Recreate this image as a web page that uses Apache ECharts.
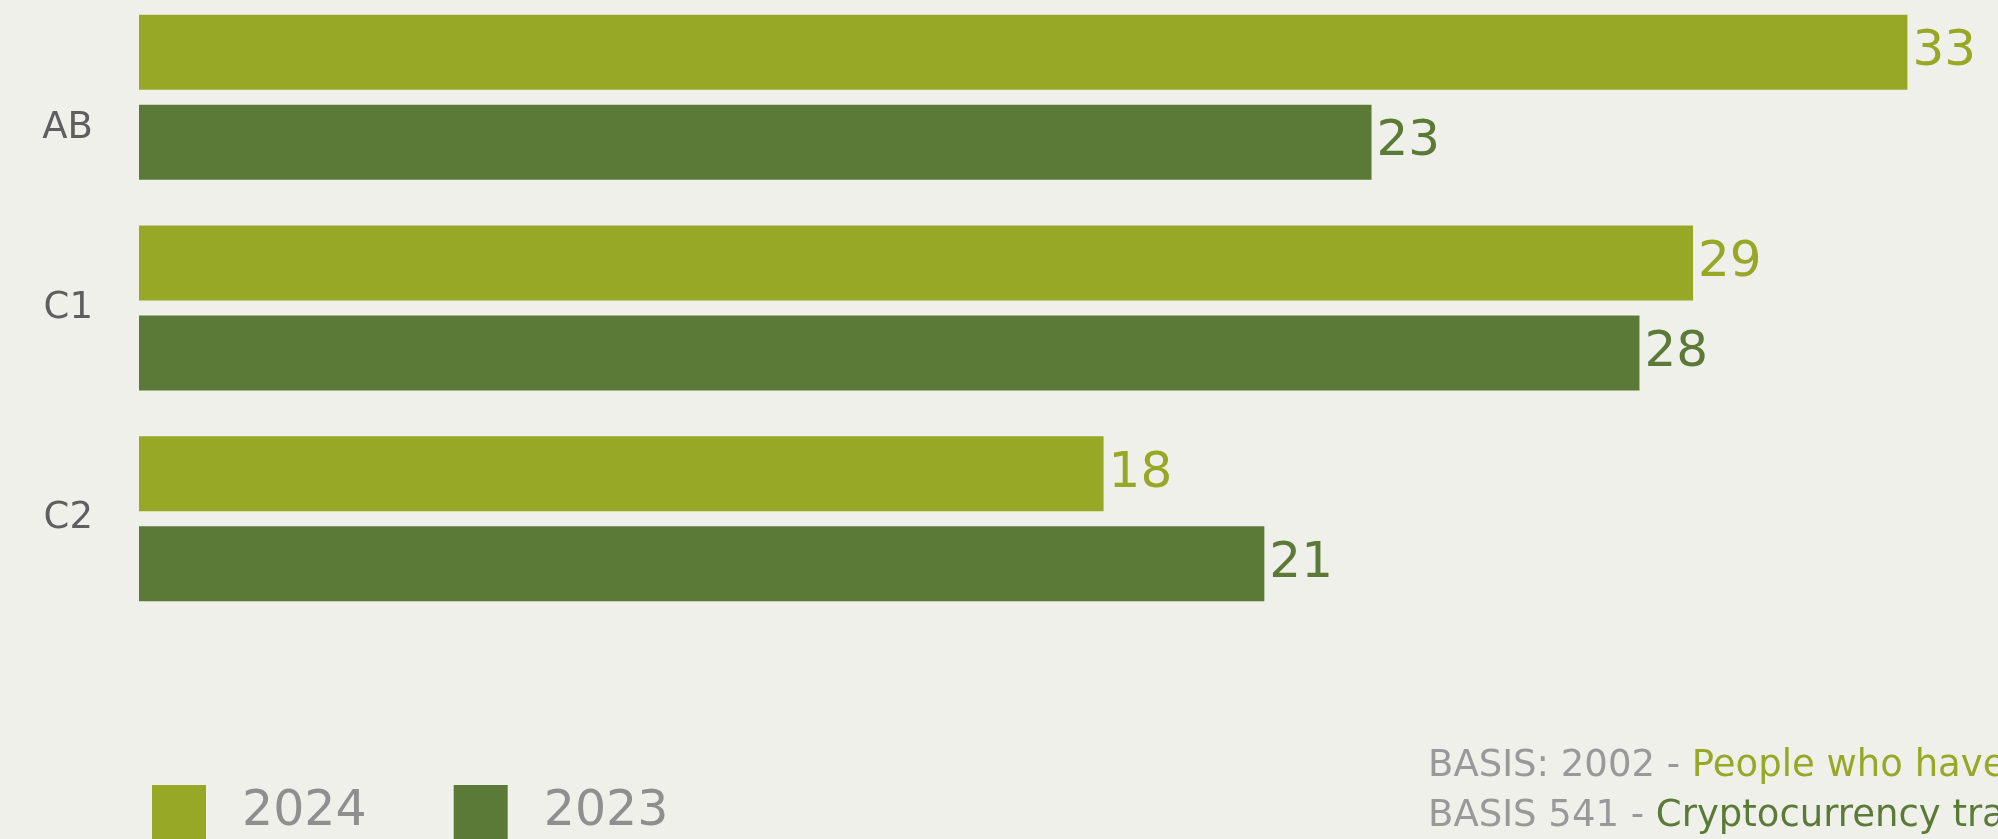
<!DOCTYPE html>
<html>
<head>
<meta charset="utf-8">
<script src="https://cdn.jsdelivr.net/npm/echarts@6/dist/echarts.min.js"></script>
<style>
  html, body { margin: 0; padding: 0; background: #f0f0eb; }
  #chart { width: 1998px; height: 839px; }
</style>
</head>
<body>
<div id="chart"></div>
<script>
// Segments and yearly shares, listed top to bottom
const categories = ['AB', 'C1', 'C2'];
const seriesNames = ['2024', '2023'];
const values2024 = [33, 29, 18];
const values2023 = [23, 28, 21];
const basisLines = [
  ['BASIS: 2002 - ', 'People who have'],
  ['BASIS 541 - ', 'Cryptocurrency traders']
];

const COLOR_2024 = '#97a827';
const COLOR_2023 = '#5b7a37';
const FONT = "'DejaVu Sans', sans-serif";

const chart = echarts.init(document.getElementById('chart'));

function barSeries(name, data, color) {
  return {
    name: name,
    type: 'bar',
    data: data,
    barWidth: 75,
    barGap: '20%',
    clip: false,
    itemStyle: { color: color },
    label: {
      show: true,
      position: 'right',
      distance: 5,
      color: color,
      fontFamily: FONT,
      fontSize: 50
    },
    emphasis: { disabled: true }
  };
}

chart.setOption({
  backgroundColor: '#f0f0eb',
  animation: false,
  // the top band starts slightly above the canvas edge
  grid: {
    left: 139, right: 37, top: -8, height: 632,
    containLabel: false,
    outerBoundsMode: 'none'
  },
  xAxis: {
    type: 'value',
    min: 0,
    max: 34,
    show: false
  },
  yAxis: {
    type: 'category',
    data: categories,
    inverse: true,
    axisLine: { show: false },
    axisTick: { show: false },
    splitLine: { show: false },
    axisLabel: {
      margin: 46,
      color: '#5f5f5f',
      fontFamily: FONT,
      fontSize: 37,
      // top row label is padded so it stays centred on its bar pair
      formatter: (value, index) => index === 0 ? '{first|' + value + '}' : value,
      rich: {
        first: {
          color: '#5f5f5f',
          fontFamily: FONT,
          fontSize: 37,
          padding: [62, 0, 0, 0]
        }
      }
    }
  },
  legend: {
    data: seriesNames,
    left: 152,
    top: 785,
    padding: 0,
    itemWidth: 54,
    itemHeight: 54,
    itemGap: 87,
    icon: 'rect',
    textStyle: {
      color: '#8f8f8f',
      fontFamily: FONT,
      fontSize: 49,
      padding: [0, 0, 0, 31]
    }
  },
  graphic: basisLines.map((parts, i) => ({
    type: 'text',
    silent: true,
    style: {
      x: 1428,
      y: 766 + i * 50,
      verticalAlign: 'middle',
      font: "37px 'DejaVu Sans'",
      text: '{g|' + parts[0] + '}{c|' + parts[1] + '}',
      rich: {
        g: { fill: '#999999', font: "37px 'DejaVu Sans'" },
        c: { fill: i === 0 ? COLOR_2024 : COLOR_2023, font: "37px 'DejaVu Sans'" }
      }
    }
  })),
  series: [
    barSeries(seriesNames[0], values2024, COLOR_2024),
    barSeries(seriesNames[1], values2023, COLOR_2023)
  ]
});
</script>
</body>
</html>
